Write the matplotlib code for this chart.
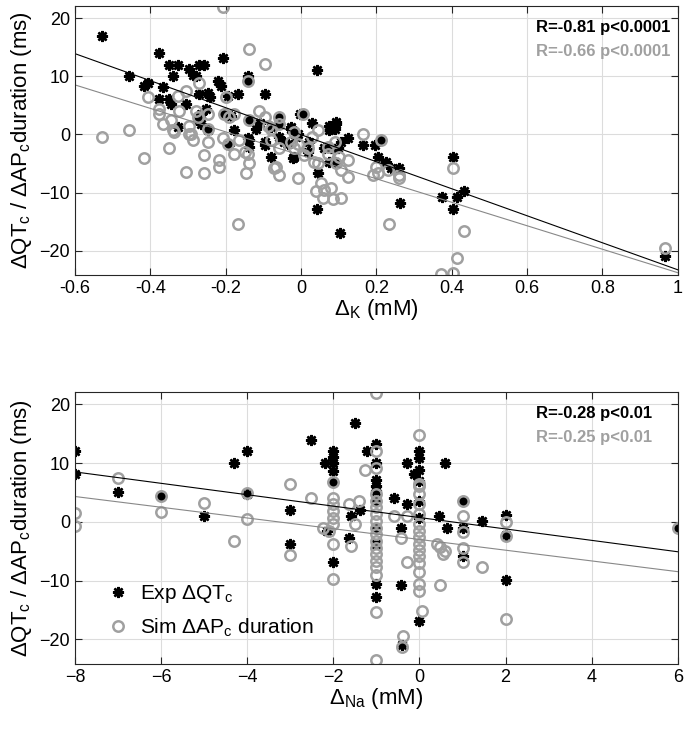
import numpy as np
import matplotlib.pyplot as plt

plt.rcParams['font.family'] = ['Liberation Sans', 'DejaVu Sans']
plt.rcParams['mathtext.fontset'] = 'custom'
plt.rcParams['mathtext.rm'] = 'Liberation Sans'

# top panel: delta K (mM) vs delta QTc / delta APc duration (ms)
k_exp_x = [-0.528, -0.458, -0.416, -0.405, -0.376, -0.367, -0.376, -0.350, -0.327, -0.339,
           -0.350, -0.345, -0.305, -0.327, -0.297, -0.288, -0.279, -0.270, -0.257, -0.208,
           -0.221, -0.212, -0.270, -0.248, -0.243, -0.195, -0.168, -0.142, -0.142, -0.097,
           0.042, -0.266, -0.252, -0.204, -0.186, -0.177, -0.137, -0.058, -0.058, -0.027,
           -0.004, -0.274, -0.266, 0.004, 0.093, 0.080, 0.089, 0.075, -0.009, 0.124,
           0.164, 0.195, 0.212, 0.204, 0.226, 0.239, 0.261, 0.044, 0.042, 0.104,
           0.263, 0.403, 0.374, 0.414, 0.432, 0.403, 0.089, 0.075, 0.062, 0.080,
           0.097, 0.106, 0.965, -0.190, -0.137, -0.137, -0.097, -0.080, -0.044, -0.022,
           -0.248, -0.027, -0.013, -0.018, 0.022, 0.018, -0.058, -0.035, -0.142, -0.097,
           -0.080, 0.075, 0.093, -0.058, -0.120, -0.110, 0.030]
k_exp_y = [17.0, 10.1, 8.3, 8.9, 14.0, 8.1, 6.1, 12.0, 12.0, 10.0,
           6.1, 5.3, 5.2, 1.3, 11.2, 10.3, 10.0, 12.0, 12.0, 13.1,
           9.2, 8.3, 6.9, 7.2, 6.4, 6.6, 7.0, 10.0, 9.2, 6.9,
           11.1, 3.5, 4.4, 3.5, 3.2, 0.7, 2.4, 3.0, 1.8, 1.3,
           3.5, 2.4, 1.8, 3.5, 1.8, 1.0, 1.0, 0.7, 0.1, -0.7,
           -1.9, -1.9, -1.0, -3.9, -4.7, -5.8, -5.8, -6.7, -12.8, -16.9,
           -11.8, -3.9, -10.8, -10.8, -9.8, -12.8, -4.7, -4.7, -2.4, -2.4,
           -2.4, -1.3, -20.9, -1.9, -1.0, -2.1, -1.3, -3.9, -1.3, -4.1,
           0.7, 1.0, -0.4, -3.9, -1.3, -3.0, -0.4, -1.6, -0.7, -1.8,
           1.3, 1.5, 2.1, 2.7, 1.0, 2.0, 2.0]

k_sim_x = [-0.206, -0.137, -0.097, -0.528, -0.458, -0.407, -0.305, -0.327, -0.270, -0.199,
           -0.142, -0.376, -0.376, -0.367, -0.345, -0.341, -0.323, -0.297, -0.279, -0.274,
           -0.248, -0.248, -0.292, -0.204, -0.190, -0.177, -0.111, -0.097, -0.088, -0.137,
           -0.058, -0.058, -0.080, 0.164, 0.004, 0.044, -0.418, -0.350, -0.305, -0.257,
           -0.257, -0.248, -0.288, -0.297, -0.217, -0.217, -0.208, -0.195, -0.177, -0.164,
           -0.142, -0.137, -0.146, -0.168, -0.080, -0.058, -0.066, -0.058, -0.027, -0.009,
           -0.336, -0.150, 0.212, 0.124, 0.124, 0.106, 0.044, 0.053, 0.040, 0.062,
           0.080, 0.058, 0.084, 0.106, 0.190, 0.204, 0.199, 0.230, 0.261, 0.261,
           0.403, 0.233, 0.432, 0.413, 0.372, 0.403, 0.018, 0.009, 0.035, -0.009,
           -0.018, 0.071, 0.102, 0.093, 0.089, 0.071, 0.965, -0.071, -0.020, 0.030]
k_sim_y = [22.0, 14.7, 12.1, -0.5, 0.7, 6.4, 7.5, 6.6, 8.9, 6.4,
           9.2, 4.4, 3.5, 1.8, 2.4, 0.7, 4.1, 1.5, 4.1, 3.0,
           3.5, 1.0, 0.1, 3.5, 3.0, 3.5, 4.1, 3.0, 1.5, 2.4,
           3.0, 1.8, 1.0, 0.0, 3.5, 0.7, -4.0, -2.4, -6.4, -3.6,
           -6.6, -1.3, -1.0, 0.1, -4.4, -5.6, -0.7, -1.6, -3.3, -1.0,
           -3.3, -5.0, -6.6, -15.4, -1.0, -2.4, -5.6, -7.0, -1.3, -7.5,
           0.4, -3.0, -1.0, -4.4, -7.3, -6.1, -5.0, -8.4, -9.8, -9.5,
           -9.3, -11.0, -11.2, -11.0, -7.0, -6.7, -5.6, -6.1, -7.0, -7.5,
           -5.7, -15.5, -16.6, -21.3, -24.0, -23.9, -2.4, -3.6, -4.7, -1.6,
           -2.4, -3.3, -3.9, -5.0, -1.3, -2.1, -19.6, -5.8, 0.5, -0.5]

# bottom panel: delta Na (mM)
na_exp_x = [-8, -8, -7, -6, -5, -4.3, -4, -4, -3, -3,
            -2.53, -2.2, -2, -2, -2, -2, -2, -2, -2.15, -1.64,
            -1.6, -1.37, -1.49, -1.23, -1, -1, -1, -1, -1, -1,
            -1, -1, -1, -1, -0.58, -0.44, -0.44, -0.29, -0.29, -0.13,
            0, 0, 0, 0, 0, 0, 0, 0.6, 0.45, 0.64,
            1, 1, 1, 1.45, 2, 2, 2, 6, -0.4]
na_exp_y = [12.0, 8.1, 5.0, 4.4, 1.0, 10.1, 12.0, 4.7, 2.1, -3.8,
            13.9, 10.1, 12.0, 11.0, 10.1, 8.6, 6.7, -6.9, -1.5, -2.8,
            1.0, 2.1, 16.9, 12.0, 13.2, 10.1, 7.2, 6.1, 5.3, 3.6,
            -1.0, -3.8, -10.6, -12.8, 4.1, -1.0, -10.8, 10.1, 3.0, 8.1,
            12.0, 10.9, 8.9, 6.9, 3.5, 0.7, -16.8, 10.1, 1.0, -1.0,
            3.6, -1.0, -5.8, 0.2, 1.2, -2.3, -9.9, -1.0, -21.0]

na_sim_x = [-8, -8, -7, -6, -6, -5, -4.3, -4, -4, -3,
            -3, -2.53, -2.23, -2.1, -2, -2, -2, -2, -2, -2,
            -2, -2, -1.64, -1.49, -1.6, -1.41, -1.26, -1, -1, -1,
            -1, -1, -1, -1, -1, -1, -1, -1, -1, -1,
            -1, -1, -1, -1, -1, -0.6, -0.44, -0.29, -0.29, 0,
            0, 0, 0, 0, 0, 0, 0, 0, 0, 0,
            0, 0, 0, 0, 0, 0.05, 0.4, 0.47, 0.6, 0.55,
            0.47, 1, 1, 1, 1, 1, 1.45, 2, 2, 2,
            6, -0.39, -0.4]
na_sim_y = [1.5, -0.7, 7.5, 4.4, 1.6, 3.2, -3.2, 0.5, 4.9, 6.4,
            -5.7, 4.1, -1.0, -1.5, 6.7, 4.1, 3.0, 1.9, 0.7, -0.4,
            -3.8, -9.7, 3.0, -0.4, -4.1, 3.6, 8.9, 21.9, 12.0, 9.2,
            4.7, 3.6, 2.5, 1.4, 0.2, -1.0, -2.1, -3.2, -4.4, -5.5,
            -6.6, -7.7, -9.0, -15.4, -23.6, 1.0, -2.7, 1.0, -6.9, 14.7,
            6.4, 6.1, 4.7, 3.0, 1.4, -0.4, -1.5, -2.6, -3.7, -4.8,
            -5.9, -7.0, -8.6, -10.5, -11.7, -15.1, -3.8, -4.3, -5.0, -5.5,
            -10.8, 3.6, 1.0, -1.8, -4.4, -6.9, -7.7, -0.1, -2.4, -16.5,
            -1.0, -19.5, -21.3]

# regression lines (slope, intercept)
k_fit_exp = (-23.25, -0.05)
k_fit_sim = (-20.2, -3.6)
na_fit_exp = (-0.971, 0.73)
na_fit_sim = (-0.914, -3.0)

k_stats = ['R=-0.81 p<0.0001', 'R=-0.66 p<0.0001']
na_stats = ['R=-0.28 p<0.01', 'R=-0.25 p<0.01']

GRAY = '#a0a0a0'
YLABEL = r'ΔQT$_\mathregular{c}$ / ΔAP$_\mathregular{c}$duration (ms)'


def panel(ax, ex, ey, sx, sy, fit_e, fit_s, xlim, xticks, xlabel, stats):
    ax.plot(ex, ey, linestyle='none', marker=(8, 2, 0), markersize=8,
            mew=1.8, color='black', label=r'Exp ΔQT$_\mathregular{c}$')
    ax.plot(sx, sy, linestyle='none', marker='o', markersize=7.5, mew=1.8,
            mfc='none', mec=GRAY, label=r'Sim ΔAP$_\mathregular{c}$ duration')
    xx = np.array(xlim)
    ax.plot(xx, fit_e[0] * xx + fit_e[1], color='black', lw=0.8)
    ax.plot(xx, fit_s[0] * xx + fit_s[1], color='#888888', lw=0.8)
    ax.set_xlim(xlim)
    ax.set_ylim(-24.2, 22.1)
    ax.set_xticks(xticks)
    ax.set_yticks([-20, -10, 0, 10, 20])
    ax.grid(True, color='#dcdcdc', lw=0.8)
    ax.set_axisbelow(True)
    ax.tick_params(direction='in', top=True, right=True, labelsize=13,
                   length=5, color='#262626')
    for s in ax.spines.values():
        s.set_color('#262626')
    ax.set_xlabel(xlabel, fontsize=16, labelpad=0)
    ax.set_ylabel(YLABEL, fontsize=16)
    ax.text(0.7645, 0.92, stats[0], transform=ax.transAxes, fontsize=12,
            fontweight='bold', color='black', va='center')
    ax.text(0.7645, 0.832, stats[1], transform=ax.transAxes, fontsize=12,
            fontweight='bold', color=GRAY, va='center')


fig = plt.figure(figsize=(6.85, 7.34), dpi=100)
ax1 = fig.add_axes([0.1095, 0.6253, 0.880, 0.3665])
ax2 = fig.add_axes([0.1095, 0.0954, 0.880, 0.3705])

panel(ax1, k_exp_x, k_exp_y, k_sim_x, k_sim_y, k_fit_exp, k_fit_sim,
      (-0.6, 1), [-0.6, -0.4, -0.2, 0, 0.2, 0.4, 0.6, 0.8, 1],
      r'Δ$_\mathregular{K}$ (mM)', k_stats)
ax1.set_xticklabels(['-0.6', '-0.4', '-0.2', '0', '0.2', '0.4', '0.6', '0.8', '1'])

panel(ax2, na_exp_x, na_exp_y, na_sim_x, na_sim_y, na_fit_exp, na_fit_sim,
      (-8, 6), [-8, -6, -4, -2, 0, 2, 4, 6],
      r'Δ$_\mathregular{Na}$ (mM)', na_stats)
ax2.legend(loc='lower left', bbox_to_anchor=(0.012, 0.04), frameon=False,
           fontsize=15, handletextpad=0.05, borderaxespad=0.3)

fig.savefig('out.png', dpi=100)
